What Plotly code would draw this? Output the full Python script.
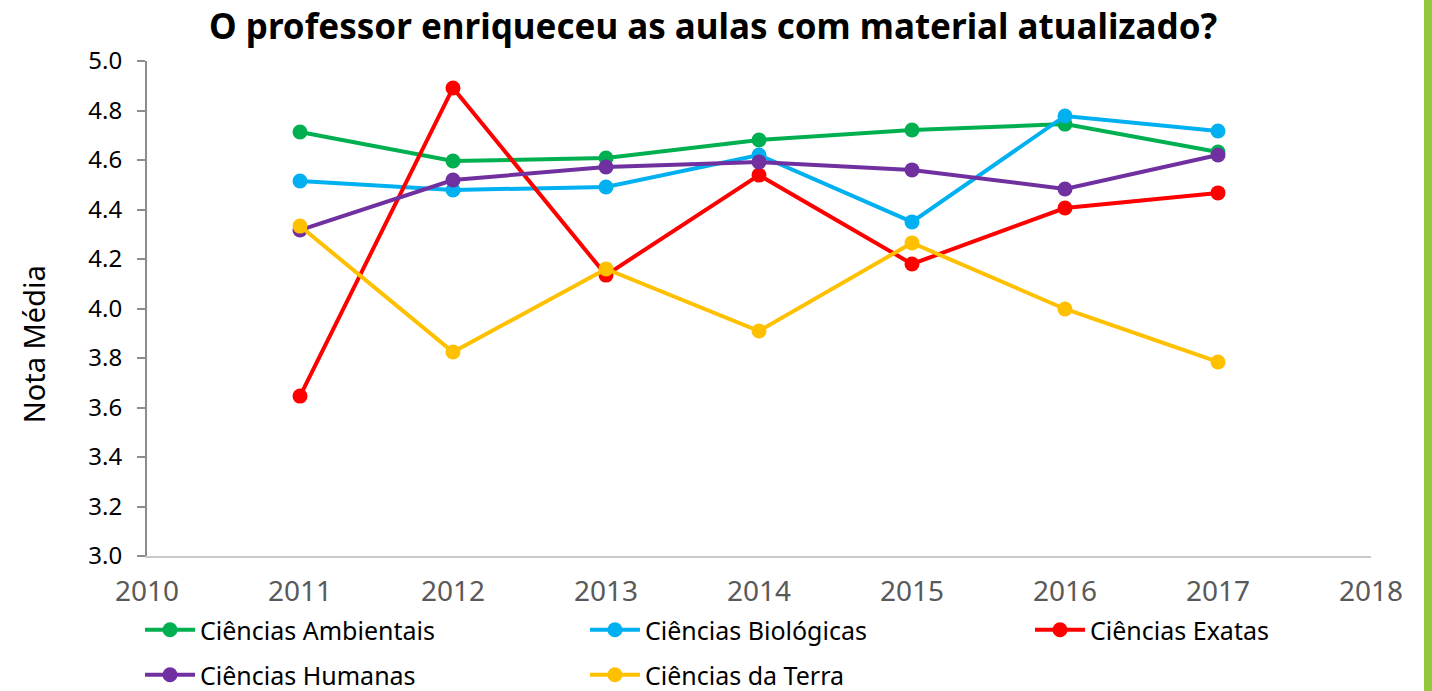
import plotly.graph_objects as go

years = [2011, 2012, 2013, 2014, 2015, 2016, 2017]
series_names = ["Ciências Ambientais", "Ciências Biológicas", "Ciências Exatas",
                "Ciências Humanas", "Ciências da Terra"]
ambientais = [4.713, 4.596, 4.608, 4.681, 4.721, 4.745, 4.632]
biologicas = [4.515, 4.479, 4.491, 4.620, 4.350, 4.778, 4.717]
exatas = [3.646, 4.891, 4.135, 4.539, 4.180, 4.406, 4.467]
humanas = [4.317, 4.519, 4.572, 4.592, 4.560, 4.483, 4.620]
terra = [4.333, 3.824, 4.160, 3.909, 4.265, 3.998, 3.784]
colors = ["#00B050", "#00B0F0", "#FF0000", "#7030A0", "#FFC000"]
x_ticks = [2010, 2011, 2012, 2013, 2014, 2015, 2016, 2017, 2018]
y_ticks = [3.0, 3.2, 3.4, 3.6, 3.8, 4.0, 4.2, 4.4, 4.6, 4.8, 5.0]

FONT = "Noto Sans"
fig = go.Figure()
all_vals = [ambientais, biologicas, exatas, humanas, terra]
legend_ids = ["legend", "legend2", "legend3", "legend4", "legend5"]
for name, vals, col, lg in zip(series_names, all_vals, colors, legend_ids):
    fig.add_trace(go.Scatter(
        x=years, y=vals, name=name, mode="lines+markers",
        line=dict(color=col, width=4),
        marker=dict(color=col, size=15),
        legend=lg, showlegend=True,
    ))

# legend placement (paper coords): columns and rows
leg_x = [-0.0057, 0.3578, 0.7214, -0.0057, 0.3578]
leg_y = [-0.1495, -0.1495, -0.1495, -0.2405, -0.2405]
legend_layout = {}
for lg, lx, ly in zip(legend_ids, leg_x, leg_y):
    legend_layout[lg] = dict(orientation="h", x=lx, xanchor="left", y=ly, yanchor="middle",
                             itemwidth=50, visible=True,
                             font=dict(family=FONT, size=25, color="black"),
                             bgcolor="rgba(0,0,0,0)")

fig.update_layout(
    width=1432, height=691, showlegend=True,
    paper_bgcolor="white", plot_bgcolor="white",
    margin=dict(l=147, r=61, t=61, b=135, autoexpand=False),
    title=dict(text="<b>O professor enriqueceu as aulas com material atualizado?</b>",
               x=0.498, xanchor="center", y=0.961, yanchor="middle",
               font=dict(family=FONT, size=35, color="black")),
    xaxis=dict(range=[2010, 2018], tickvals=x_ticks, showgrid=False, zeroline=False,
               showline=True, linecolor="#C8C8C8", linewidth=2, ticks="",
               ticklabelstandoff=9,
               tickfont=dict(family=FONT, size=28, color="#595959")),
    yaxis=dict(range=[3.0, 5.0], tickvals=y_ticks, tickformat=".1f", showgrid=False,
               zeroline=False, showline=True, linecolor="#8C8C8C", linewidth=2,
               ticks="outside", ticklen=8, tickcolor="#8C8C8C", tickwidth=2,
               ticklabelstandoff=10,
               tickfont=dict(family=FONT, size=24, color="black")),
    annotations=[dict(text="Nota Média", xref="paper", yref="paper",
                      x=-0.093, y=0.428, xanchor="center", yanchor="middle",
                      textangle=-90, showarrow=False,
                      font=dict(family=FONT, size=29, color="black"))],
    shapes=[dict(type="rect", xref="paper", yref="paper", x0=1.0433, x1=1.06,
                 y0=-0.3, y1=1.2, fillcolor="#93C83A", line=dict(width=0), layer="above")],
    **legend_layout,
)

fig.write_html("out.html", config={"displayModeBar": False},
               post_script="document.body.style.margin='0';document.body.style.overflow='hidden';")
